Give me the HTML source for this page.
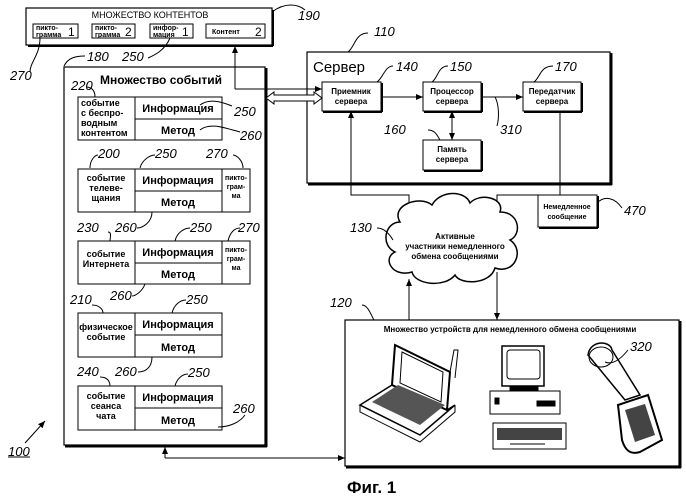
<!DOCTYPE html>
<html><head><meta charset="utf-8"><style>
html,body{margin:0;padding:0;background:#fff;}
svg{display:block}
text{font-family:"Liberation Sans",sans-serif;fill:#000}
.b{font-weight:bold}
.n{font-style:italic;font-size:13px}
</style></head><body>
<svg width="686" height="500" viewBox="0 0 686 500" xmlns="http://www.w3.org/2000/svg">
<defs>
<marker id="a" markerWidth="8" markerHeight="8" refX="7" refY="4" orient="auto" markerUnits="userSpaceOnUse"><path d="M0,1 L7,4 L0,7 z" fill="#000"/></marker>
</defs>
<g fill="none" stroke="#000">
<rect x="26" y="8" width="246" height="37" stroke-width="1.2"/>
<line x1="28" y1="46" x2="273" y2="46" stroke-width="2"/><line x1="273" y1="10" x2="273" y2="46" stroke-width="2"/>
<rect x="33" y="24" width="45" height="14"/><rect x="92" y="24" width="43" height="14"/><rect x="150" y="24" width="43" height="14"/><rect x="206" y="24" width="59" height="14"/>
<rect x="64" y="67" width="201" height="378" stroke-width="1.2"/>
<line x1="266" y1="68" x2="266" y2="447" stroke-width="3"/><line x1="65" y1="446" x2="267" y2="446" stroke-width="3"/>
<rect x="78" y="97" width="144" height="43"/><line x1="135" y1="97" x2="135" y2="140"/><line x1="135" y1="119" x2="222" y2="119"/>
<rect x="78" y="169" width="172" height="43"/><line x1="135" y1="169" x2="135" y2="212"/><line x1="222" y1="169" x2="222" y2="212"/><line x1="135" y1="191" x2="222" y2="191"/>
<rect x="78" y="241" width="172" height="43"/><line x1="135" y1="241" x2="135" y2="284"/><line x1="222" y1="241" x2="222" y2="284"/><line x1="135" y1="263" x2="222" y2="263"/>
<rect x="78" y="313" width="144" height="44"/><line x1="135" y1="313" x2="135" y2="357"/><line x1="135" y1="335" x2="222" y2="335"/>
<rect x="78" y="386" width="144" height="44"/><line x1="135" y1="386" x2="135" y2="430"/><line x1="135" y1="408" x2="222" y2="408"/>
<rect x="307" y="52" width="303" height="131" stroke-width="1.2"/>
<line x1="611" y1="53" x2="611" y2="185" stroke-width="3"/><line x1="308" y1="184" x2="612" y2="184" stroke-width="3"/>
<rect x="322" y="82" width="59" height="29"/><line x1="382" y1="83" x2="382" y2="112" stroke-width="2"/><line x1="323" y1="112" x2="382" y2="112" stroke-width="2"/>
<rect x="423" y="82" width="58" height="29"/><line x1="482" y1="83" x2="482" y2="112" stroke-width="2"/><line x1="424" y1="112" x2="482" y2="112" stroke-width="2"/>
<rect x="523" y="82" width="58" height="29"/><line x1="582" y1="83" x2="582" y2="112" stroke-width="2"/><line x1="524" y1="112" x2="582" y2="112" stroke-width="2"/>
<rect x="423" y="140" width="58" height="30"/><line x1="482" y1="141" x2="482" y2="171" stroke-width="2"/><line x1="424" y1="171" x2="482" y2="171" stroke-width="2"/>
<line x1="381" y1="97" x2="423" y2="97" marker-end="url(#a)"/>
<line x1="481" y1="97" x2="523" y2="97" marker-end="url(#a)"/>
<line x1="452" y1="121" x2="452" y2="140" marker-end="url(#a)"/>
<line x1="452" y1="130" x2="452" y2="111" marker-end="url(#a)"/>
<line x1="235" y1="89" x2="235" y2="46" marker-end="url(#a)"/>
<line x1="235" y1="89" x2="322" y2="89" marker-end="url(#a)"/>
<path d="M266,98 L274,92 L274,95 L314,95 L314,92 L322,98 L314,104 L314,101 L274,101 L274,104 Z" fill="#fff"/>
<polyline points="409,205 409,195 351,195 351,111" marker-end="url(#a)"/>
<polyline points="560,111 560,195 497,195 497,212" marker-end="url(#a)"/>
<rect x="538" y="195" width="59" height="32"/><line x1="598" y1="196" x2="598" y2="228" stroke-width="2"/><line x1="539" y1="228" x2="598" y2="228" stroke-width="2"/>
<path d="M400,222 C390,205 420,195 432,205 C440,190 465,190 470,203 C480,192 505,198 500,212 C520,212 522,235 510,240 C525,250 515,275 495,268 C490,285 460,285 455,275 C445,288 415,285 412,272 C392,278 382,258 395,252 C380,245 385,222 400,222 Z" stroke-width="1.5" fill="#fff"/>
<line x1="409" y1="320" x2="409" y2="279" marker-end="url(#a)"/>
<line x1="497" y1="272" x2="497" y2="320" marker-end="url(#a)"/>
<rect x="345" y="320" width="334" height="146" stroke-width="1.2"/>
<line x1="680" y1="321" x2="680" y2="468" stroke-width="3"/><line x1="346" y1="467" x2="681" y2="467" stroke-width="3"/>
<polyline points="165,458 345,458" marker-end="url(#a)"/>
<line x1="165" y1="458" x2="165" y2="447" marker-end="url(#a)"/>
<path d="M395,345 L450,372 L447,410 L392,385 Z" stroke-width="2"/>
<path d="M402,352 L443,372 L441,402 L400,383 Z" fill="#fff"/>
<path d="M392,385 L360,405 L420,435 L455,405 L447,410" stroke-width="1.5"/>
<path d="M360,405 L360,412 L420,442 L455,412 L455,405" />
<path d="M372,402 L420,425 L445,405 L398,385 Z" fill="#555" stroke="none"/>
<path d="M450,372 L454,350 L458,350 L455,378" />
<rect x="502" y="346" width="42" height="40" stroke-width="1.5"/><rect x="507" y="350" width="33" height="29" rx="3"/>
<rect x="510" y="386" width="28" height="4" fill="#000"/>
<rect x="490" y="391" width="70" height="23"/><rect x="495" y="398" width="4" height="6" fill="#000"/><rect x="537" y="401" width="18" height="5" fill="#000"/>
<rect x="493" y="423" width="73" height="26"/><rect x="497" y="428" width="65" height="12" fill="#444" stroke="none"/><line x1="510" y1="444" x2="545" y2="444"/>
<path d="M588,355 C590,340 610,340 612,350 L640,395 L625,400 Z" stroke-width="1.5"/>
<ellipse cx="601" cy="357" rx="12" ry="10"/>
<path d="M618,405 L648,395 L662,440 L640,452 C630,455 625,450 622,440 Z" stroke-width="2"/>
<path d="M625,410 L645,404 L655,435 L635,442 Z" fill="#444" stroke="none"/>
<path d="M272,12 C285,2 298,4 305,10"/>
<path d="M40,38 C40,55 30,62 30,72"/>
<path d="M170,38 C165,50 155,55 148,58"/>
<path d="M64,66 C68,58 75,56 85,56"/>
<path d="M87,87 C95,88 95,95 95,97"/>
<path d="M200,105 C210,98 222,102 232,106"/>
<path d="M200,130 C210,122 225,128 240,132"/>
<path d="M90,168 C90,160 95,155 98,155"/>
<path d="M140,168 C142,160 150,155 155,155"/>
<path d="M243,168 C243,160 236,155 233,155"/>
<path d="M152,212 C152,222 143,228 137,228"/>
<path d="M108,232 C112,232 110,238 110,241"/>
<path d="M175,241 C177,232 185,228 190,228"/>
<path d="M228,241 C230,232 235,228 240,228"/>
<path d="M145,284 C142,292 135,296 132,296"/>
<path d="M92,305 C100,305 103,310 103,313"/>
<path d="M172,313 C174,305 180,300 186,300"/>
<path d="M152,357 C152,368 145,372 138,372"/>
<path d="M100,377 C108,377 110,382 110,386"/>
<path d="M175,386 C177,378 183,374 188,374"/>
<path d="M218,427 C230,427 240,422 245,415"/>
<path d="M368,33 C355,33 355,47 348,52"/>
<path d="M393,66 C385,66 383,78 377,82"/>
<path d="M448,66 C438,66 438,78 432,82"/>
<path d="M553,66 C540,66 540,78 534,82"/>
<path d="M428,130 C435,130 437,135 440,140"/>
<path d="M497,126 C500,115 498,102 495,97"/>
<path d="M377,228 C385,228 390,235 393,240"/>
<path d="M362,305 C368,305 371,315 374,320"/>
<path d="M597,203 C605,195 615,198 622,208"/>
<path d="M628,350 C620,360 612,365 605,362"/>
<line x1="25" y1="443" x2="45" y2="421" marker-end="url(#a)"/>
<line x1="8" y1="457" x2="30" y2="457"/>
</g>
<text x="150" y="18" font-size="9" text-anchor="middle">МНОЖЕСТВО КОНТЕНТОВ</text>
<g font-size="7" class="b"><text x="36" y="30">пикто-</text><text x="36" y="37">грамма</text>
<text x="95" y="30">пикто-</text><text x="95" y="37">грамма</text>
<text x="153" y="30">инфор-</text><text x="153" y="37">мация</text>
<text x="212" y="34">Контент</text></g>
<g font-size="12"><text x="68" y="36">1</text><text x="125" y="36">2</text><text x="182" y="36">1</text><text x="255" y="36">2</text></g>
<text x="100" y="84" font-size="12" class="b">Множество событий</text>
<g font-size="9" class="b">
<text x="81" y="106">событие</text><text x="81" y="116">с беспро-</text><text x="81" y="126">водным</text><text x="81" y="136">контентом</text>
<text x="106" y="181" text-anchor="middle">событие</text><text x="106" y="191" text-anchor="middle">телеве-</text><text x="106" y="201" text-anchor="middle">щания</text>
<text x="106" y="257" text-anchor="middle">событие</text><text x="106" y="267" text-anchor="middle">Интернета</text>
<text x="106" y="330" text-anchor="middle">физическое</text><text x="106" y="340" text-anchor="middle">событие</text>
<text x="106" y="399" text-anchor="middle">событие</text><text x="106" y="409" text-anchor="middle">сеанса</text><text x="106" y="419" text-anchor="middle">чата</text>
</g>
<g font-size="7" class="b" text-anchor="middle">
<text x="236" y="180">пикто-</text><text x="236" y="189">грам-</text><text x="236" y="198">ма</text>
<text x="236" y="252">пикто-</text><text x="236" y="261">грам-</text><text x="236" y="270">ма</text>
</g>
<g font-size="11" class="b" text-anchor="middle">
<text x="178" y="112">Информация</text><text x="178" y="134">Метод</text>
<text x="178" y="184">Информация</text><text x="178" y="206">Метод</text>
<text x="178" y="256">Информация</text><text x="178" y="278">Метод</text>
<text x="178" y="328">Информация</text><text x="178" y="351">Метод</text>
<text x="178" y="401">Информация</text><text x="178" y="424">Метод</text>
</g>
<text x="313" y="72" font-size="15">Сервер</text>
<g font-size="8" class="b" text-anchor="middle">
<text x="351" y="94">Приемник</text><text x="351" y="104">сервера</text>
<text x="452" y="94">Процессор</text><text x="452" y="104">сервера</text>
<text x="552" y="94">Передатчик</text><text x="552" y="104">сервера</text>
<text x="452" y="152">Память</text><text x="452" y="162">сервера</text>
<text x="567" y="209" font-size="7">Немедленное</text><text x="567" y="219" font-size="7">сообщение</text>
<text x="455" y="239">Активные</text><text x="455" y="249">участники немедленного</text><text x="455" y="259">обмена сообщениями</text>
<text x="510" y="332">Множество устройств для немедленного обмена сообщениями</text>
</g>
<g class="n">
<text x="298" y="20">190</text><text x="10" y="80">270</text><text x="87" y="61">180</text><text x="122" y="61">250</text>
<text x="71" y="90">220</text><text x="234" y="116">250</text><text x="240" y="140">260</text>
<text x="98" y="158">200</text><text x="155" y="158">250</text><text x="206" y="158">270</text>
<text x="115" y="232">260</text><text x="77" y="232">230</text><text x="190" y="232">250</text><text x="238" y="232">270</text>
<text x="110" y="300">260</text><text x="70" y="304">210</text><text x="186" y="304">250</text>
<text x="115" y="376">260</text><text x="77" y="376">240</text><text x="188" y="377">250</text><text x="233" y="413">260</text>
<text x="374" y="36">110</text><text x="396" y="71">140</text><text x="450" y="71">150</text><text x="555" y="71">170</text>
<text x="384" y="134">160</text><text x="500" y="134">310</text><text x="350" y="232">130</text><text x="624" y="215">470</text>
<text x="330" y="307">120</text><text x="630" y="351">320</text><text x="8" y="456">100</text>
</g>
<text x="347" y="493" font-size="17" class="b">Фиг. 1</text>
</svg>
</body></html>
